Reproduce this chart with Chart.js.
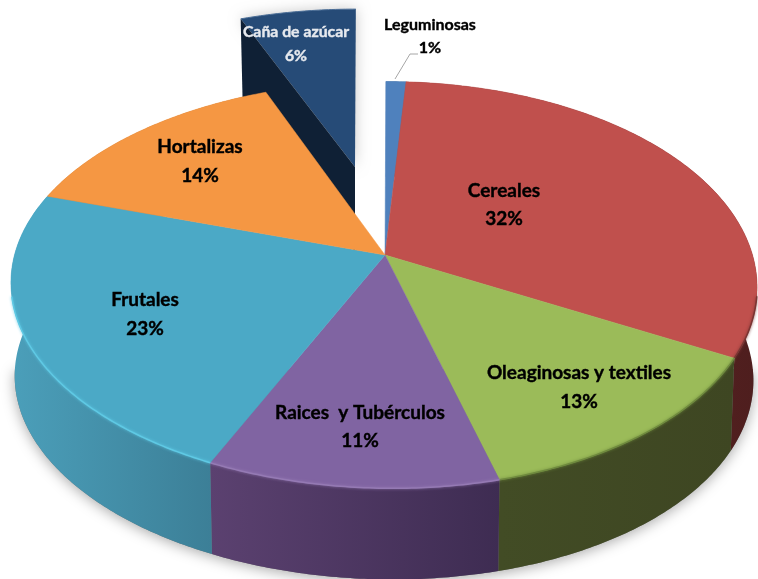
<!DOCTYPE html>
<html>
<head>
<meta charset="utf-8">
<style>
  html, body { margin: 0; padding: 0; background: #fff; overflow: hidden; }
  canvas { display: block; }
</style>
<script src="https://cdn.jsdelivr.net/npm/chart.js@4"></script>
</head>
<body>
<canvas id="pieChart" width="758" height="579"></canvas>
<script>
const categories = ['Leguminosas', 'Cereales', 'Oleaginosas y textiles', 'Raices  y Tubérculos', 'Frutales', 'Hortalizas', 'Caña de azúcar'];
const shares = [1, 32, 13, 11, 23, 14, 6];

const faceColors = ['#4f81bd', '#c0504d', '#9bbb59', '#8064a2', '#4ba9c6', '#f59743', '#264b77'];
const wallColors = [
  ['#3a5f8c', '#3a5f8c'],
  ['#6b2a28', '#4e1e1e'],
  ['#424c25', '#3e4622'],
  ['#5b4170', '#3e2c52'],
  ['#4b9fba', '#3c7f97'],
  ['#b56f30', '#b56f30'],
  ['#0f2035', '#0f2035']
];
const rimColors = [null, '#7a3533', '#6f8a3e', '#957ab4', '#5fc9e4', null, null];

// center of the labels, [name y, percent y]
const labelPos = [
  { x: 430, y: [25, 48], size: 16, color: '#000' },
  { x: 504, y: [191, 219], size: 19, color: '#000' },
  { x: 579, y: [373, 402], size: 19, color: '#000' },
  { x: 360, y: [413, 441], size: 19, color: '#000' },
  { x: 145, y: [300, 329], size: 19, color: '#000' },
  { x: 200, y: [147, 176], size: 19, color: '#000' },
  { x: 296, y: [32, 56], size: 15.8, color: '#e6e9ee' }
];

const explodedIndex = 6;
const cx = 385, cy = 255;

// perspective of the tilted disk
function project(angle) {
  const t = angle + Math.PI / 2;
  const u = Math.sin(t), v = Math.cos(t);
  const den = 1 + 0.147 * v;
  const off = -1.5 - 2.9 * v + 5.4 * v * v;
  return { x: cx + (369 * u + off) / den, y: cy - 199 * v / den };
}

function lower(p) {
  return { x: cx + (p.x - cx) * 0.99, y: cy + (p.y - cy) * 0.99 + 93.5 };
}

function moveOut(p) {
  return { x: cx + (p.x - cx) * 0.96 - 30, y: cy + (p.y - cy) * 0.91 - 88 };
}

function rimPoints(a0, a1) {
  const pts = [];
  const n = Math.max(2, Math.ceil((a1 - a0) * 90));
  for (let i = 0; i <= n; i++) {
    pts.push(project(a0 + (a1 - a0) * i / n));
  }
  return pts;
}

function tracePath(ctx, pts) {
  ctx.beginPath();
  pts.forEach((p, i) => i ? ctx.lineTo(p.x, p.y) : ctx.moveTo(p.x, p.y));
  ctx.closePath();
}

const pie3d = {
  id: 'pie3d',
  beforeDatasetsDraw(chart) {
    const ctx = chart.ctx;
    const arcs = chart.getDatasetMeta(0).data;
    const mainArcs = arcs.map((a, i) => i).filter(i => i !== explodedIndex);

    ctx.save();

    // soft shadow under the body, front half only so the gap stays white
    const outline = mainArcs.reduce((all, i) => all.concat(rimPoints(arcs[i].startAngle, arcs[i].endAngle)), []);
    ctx.save();
    ctx.shadowColor = 'rgba(0,0,0,0.35)';
    ctx.shadowBlur = 14;
    ctx.shadowOffsetY = 2;
    ctx.fillStyle = '#777';
    tracePath(ctx, outline.filter(p => p.y > cy + 20).map(lower));
    ctx.fill();
    ctx.restore();

    // walls
    mainArcs.forEach(i => {
      const top = rimPoints(arcs[i].startAngle, arcs[i].endAngle);
      const bottom = top.map(lower).reverse();
      const xs = top.map(p => p.x);
      const x0 = Math.min(...xs), x1 = Math.max(...xs);
      const grad = ctx.createLinearGradient(x0, 0, x1 + 1, 0);
      grad.addColorStop(0, wallColors[i][0]);
      grad.addColorStop(1, wallColors[i][1]);
      ctx.fillStyle = grad;
      tracePath(ctx, top.concat(bottom));
      ctx.fill();
    });

    // the slice pulled out of the pie
    const out = arcs[explodedIndex];
    const outRim = rimPoints(out.startAngle, out.endAngle).map(moveOut);
    const apex = moveOut({ x: cx, y: cy });
    ctx.save();
    ctx.shadowColor = 'rgba(0,0,0,0.22)';
    ctx.shadowBlur = 14;
    ctx.fillStyle = faceColors[explodedIndex];
    tracePath(ctx, [apex].concat(outRim));
    ctx.fill();
    ctx.restore();
    const corner = outRim[0];
    ctx.fillStyle = wallColors[explodedIndex][0];
    tracePath(ctx, [corner, apex, { x: apex.x, y: apex.y + 85 }, { x: corner.x + 2, y: corner.y + 85 }]);
    ctx.fill();
    ctx.strokeStyle = '#4a6d96';
    ctx.lineWidth = 1;
    ctx.beginPath();
    outRim.forEach((p, i) => i ? ctx.lineTo(p.x, p.y) : ctx.moveTo(p.x, p.y));
    ctx.stroke();

    // top faces
    mainArcs.forEach(i => {
      const pts = rimPoints(arcs[i].startAngle, arcs[i].endAngle);
      ctx.fillStyle = faceColors[i];
      ctx.strokeStyle = faceColors[i];
      ctx.lineWidth = 0.5;
      tracePath(ctx, [{ x: cx, y: cy }].concat(pts));
      ctx.fill();
      ctx.stroke();
      if (rimColors[i]) {
        ctx.save();
        ctx.strokeStyle = rimColors[i];
        ctx.shadowColor = rimColors[i];
        ctx.shadowBlur = 3;
        ctx.lineWidth = 1.5;
        ctx.beginPath();
        pts.filter(p => p.y > cy + 40).forEach((p, k) => k ? ctx.lineTo(p.x, p.y) : ctx.moveTo(p.x, p.y));
        ctx.stroke();
        ctx.restore();
      }
    });

    ctx.restore();
    return false; // arcs are already painted above
  },
  afterDraw(chart) {
    const ctx = chart.ctx;
    ctx.save();

    // leader line for Leguminosas
    ctx.strokeStyle = '#a6a6a6';
    ctx.lineWidth = 1;
    ctx.beginPath();
    ctx.moveTo(395, 79);
    ctx.lineTo(410, 54);
    ctx.lineTo(418, 54);
    ctx.stroke();

    ctx.textAlign = 'center';
    ctx.textBaseline = 'middle';
    ctx.lineWidth = 0.4;
    categories.forEach((name, i) => {
      const pos = labelPos[i];
      ctx.font = 'bold ' + pos.size + 'px Lato';
      ctx.fillStyle = pos.color;
      ctx.strokeStyle = pos.color;
      ctx.fillText(name, pos.x, pos.y[0]);
      ctx.strokeText(name, pos.x, pos.y[0]);
      ctx.fillText(shares[i] + '%', pos.x, pos.y[1]);
      ctx.strokeText(shares[i] + '%', pos.x, pos.y[1]);
    });
    ctx.restore();
  }
};

new Chart(document.getElementById('pieChart').getContext('2d'), {
  type: 'pie',
  data: {
    labels: categories,
    datasets: [{
      label: 'Participación',
      data: shares,
      backgroundColor: faceColors
    }]
  },
  options: {
    responsive: false,
    animation: false,
    rotation: 0,
    plugins: {
      legend: { display: false },
      tooltip: { enabled: false }
    }
  },
  plugins: [pie3d]
});
</script>
</body>
</html>
